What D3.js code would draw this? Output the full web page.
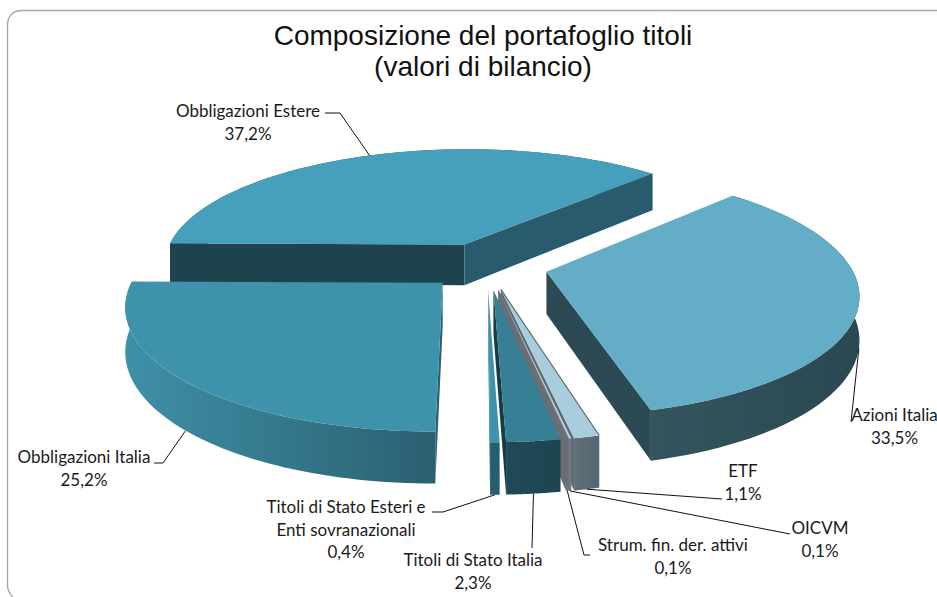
<!DOCTYPE html>
<html>
<head>
<meta charset="utf-8">
<style>
  html, body { margin: 0; padding: 0; background: #fff; overflow: hidden; }
  svg { display: block; }
  .label { font-family: Lato, "Noto Sans", sans-serif; font-size: 17px; fill: #1a1a1a; text-anchor: middle; }
  .title { font-family: "Liberation Sans", Arial, sans-serif; font-size: 28px; fill: #111; text-anchor: middle; }
</style>
</head>
<body>
<div id="chart"></div>
<script src="https://cdn.jsdelivr.net/npm/d3@7"></script>
<script>
'use strict';

const categories = ['Azioni Italia', 'ETF', 'OICVM', 'Strum. fin. der. attivi',
  'Titoli di Stato Italia', 'Titoli di Stato Esteri e Enti sovranazionali',
  'Obbligazioni Italia', 'Obbligazioni Estere'];
const values = [33.5, 1.1, 0.1, 0.1, 2.3, 0.4, 25.2, 37.2];
const titleLines = ['Composizione del portafoglio titoli', '(valori di bilancio)'];

// colours, one per slice
const topColors = ['#64adc7', '#a9cddc', '#b4cfda', '#6c7076', '#367f95', '#3f92ab', '#3f92ab', '#47a0bb'];
const startWall = ['#2b4a54', '#5a6b74', '#74777c', '#6a6d73', '#1d4552', '#265e6e', '#2a6070', '#1d444e'];
const endWall = ['#2b4a54', '#5a6b74', '#74777c', '#6a6d73', '#173a45', '#265e6e', '#2a6070', '#285c6c'];
// outer wall gradient, left to right on screen
const outerLeft = ['#34545e', '#5f7079', '#74777c', '#6a6d73', '#1f4a58', '#265e6e', '#3f90a8', '#285c6c'];
const outerRight = ['#2a4852', '#566771', '#74777c', '#6a6d73', '#1d4552', '#265e6e', '#2a6070', '#285c6c'];
// back slices are painted first
const paintOrder = [7, 0, 6, 1, 2, 3, 4, 5];

// label text anchors and leader elbows
const labelLines = [
  ['Azioni Italia', '33,5%'], ['ETF', '1,1%'], ['OICVM', '0,1%'], ['Strum. fin. der. attivi', '0,1%'],
  ['Titoli di Stato Italia', '2,3%'], ['Titoli di Stato Esteri e', 'Enti sovranazionali', '0,4%'],
  ['Obbligazioni Italia', '25,2%'], ['Obbligazioni Estere', '37,2%']
];
const labelX = [894.5, 743, 820, 673, 473, 346, 84, 248];
const labelY = [421, 477, 534, 551, 566, 513, 463, 117];
const leaderElbows = [
  [[851, 422]],
  [[722, 499]],
  [[790, 534]],
  [[584, 555], [590, 555]],
  [[532, 548]],
  [[443, 512], [432, 512]],
  [[163, 463], [154, 463]],
  [[340, 113], [325, 113]]
];
const leaderOnTop = [false, false, false, false, false, false, false, true];

const width = 937;
const height = 597;

// pie geometry (px)
const cx = 487, cy = 265.6;
const radius = 304;
const explode = 61;
const depth = 42;
const tilt = 0.387;
const persp = 0.00055;
const firstAngle = 44.6 * Math.PI / 180;

const svg = d3.select('#chart').append('svg')
  .attr('width', width)
  .attr('height', height);
const defs = svg.append('defs');

// chart frame, open on the right and cut off at the bottom
const frame = d3.path();
frame.moveTo(width, 10.5);
frame.lineTo(23, 10.5);
frame.quadraticCurveTo(7.5, 10.5, 7.5, 26);
frame.lineTo(7.5, 585);
frame.quadraticCurveTo(7.5, 592, 13, 597);
svg.append('path')
  .attr('d', frame.toString())
  .attr('fill', 'none')
  .attr('stroke', '#a6a6a6')
  .attr('stroke-width', 1.3);

const pie = d3.pie().sort(null).startAngle(firstAngle).endAngle(firstAngle + 2 * Math.PI);
const slices = pie(values);

// world (X right, V towards viewer) to screen, with simple perspective
function project(X, V) {
  const s = 1 / (1 - persp * V);
  return { x: cx + X * s, y: cy + V * tilt * s, drop: depth * s };
}

function apexOf(d) {
  const mid = (d.startAngle + d.endAngle) / 2;
  return [explode * Math.sin(mid), -explode * Math.cos(mid)];
}

function rimPoint(d, angle) {
  const a = apexOf(d);
  return project(a[0] + radius * Math.sin(angle), a[1] - radius * Math.cos(angle));
}

const line = d3.line().x(p => p[0]).y(p => p[1]);

const wallG = svg.append('g').attr('id', 'slices');

// a radial wall shows only when it hangs below the top face
function faces(a, p, m) {
  const dx = p.x - a.x, dy = p.y - a.y;
  const side = dx * (m.y - a.y) - dy * (m.x - a.x);
  return side * dx < 0;
}

function drawSlice(i) {
  const d = slices[i];
  const a0 = apexOf(d);
  const apex = project(a0[0], a0[1]);
  const steps = d3.range(0, 61).map(k => d.startAngle + (d.endAngle - d.startAngle) * k / 60);
  const rim = steps.map(t => rimPoint(d, t));
  const first = rim[0], last = rim[rim.length - 1];
  const midPt = rim[30];
  const g = wallG.append('g');

  // outer wall
  const gradId = 'outer' + i;
  const grad = defs.append('linearGradient')
    .attr('id', gradId)
    .attr('gradientUnits', 'userSpaceOnUse')
    .attr('x1', d3.min(rim, p => p.x)).attr('x2', d3.max(rim, p => p.x))
    .attr('y1', 0).attr('y2', 0);
  grad.append('stop').attr('offset', 0).attr('stop-color', outerLeft[i]);
  grad.append('stop').attr('offset', 1).attr('stop-color', outerRight[i]);
  const outerPts = rim.map(p => [p.x, p.y]).concat(rim.slice().reverse().map(p => [p.x, p.y + p.drop]));
  g.append('path')
    .attr('d', line(outerPts) + 'Z')
    .attr('fill', 'url(#' + gradId + ')');

  // radial walls
  [[first, startWall[i]], [last, endWall[i]]].forEach(w => {
    if (!faces(apex, w[0], midPt)) return;
    const pts = [[apex.x, apex.y], [w[0].x, w[0].y], [w[0].x, w[0].y + w[0].drop], [apex.x, apex.y + apex.drop]];
    g.append('path')
      .attr('d', line(pts) + 'Z')
      .attr('fill', w[1]);
  });

  // top face
  const topPts = [[apex.x, apex.y]].concat(rim.map(p => [p.x, p.y]));
  g.append('path')
    .attr('d', line(topPts) + 'Z')
    .attr('fill', topColors[i]);
}

paintOrder.forEach(drawSlice);

// dark rim on the long edge of the ETF slice
(function () {
  const d = slices[1];
  const a0 = apexOf(d);
  const apex = project(a0[0], a0[1]);
  const p = rimPoint(d, d.startAngle);
  svg.append('line')
    .attr('x1', apex.x).attr('y1', apex.y)
    .attr('x2', p.x).attr('y2', p.y)
    .attr('stroke', '#55656e')
    .attr('stroke-width', 1.2);
})();

// leader lines start on the rim at the middle of each slice
const leaders = svg.append('g').attr('id', 'leaders');
slices.forEach((d, i) => {
  const p = rimPoint(d, (d.startAngle + d.endAngle) / 2);
  const start = [p.x, leaderOnTop[i] ? p.y : p.y + p.drop];
  leaders.append('path')
    .attr('d', line([start].concat(leaderElbows[i])))
    .attr('fill', 'none')
    .attr('stroke', '#111')
    .attr('stroke-width', 1);
});

// labels
const labels = svg.append('g').attr('id', 'labels');
categories.forEach((c, i) => {
  const t = labels.append('text')
    .attr('class', 'label')
    .attr('x', labelX[i])
    .attr('y', labelY[i]);
  t.selectAll('tspan')
    .data(labelLines[i])
    .enter().append('tspan')
    .attr('x', labelX[i])
    .attr('dy', (s, k) => k === 0 ? 0 : 22.5)
    .text(s => s);
});

// title
svg.append('text')
  .attr('class', 'title')
  .selectAll('tspan')
  .data(titleLines)
  .enter().append('tspan')
  .attr('x', 483)
  .attr('y', (s, k) => 45 + k * 31)
  .text(s => s);
</script>
</body>
</html>
